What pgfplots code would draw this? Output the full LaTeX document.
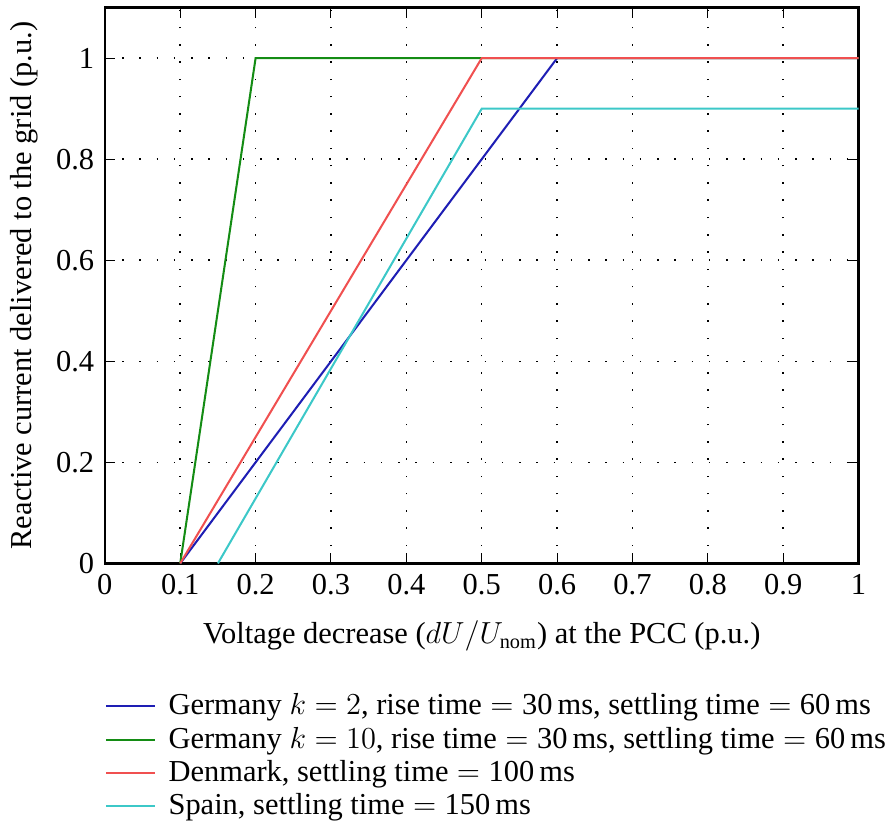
\documentclass[border=0pt]{standalone}
\usepackage{fontspec}
\setmainfont{Liberation Serif}
\usepackage{pgfplots}
\pgfplotsset{compat=1.18}
\definecolor{cBlue}{RGB}{30,30,180}
\definecolor{cGreen}{RGB}{20,140,20}
\definecolor{cRed}{RGB}{240,80,80}
\definecolor{cCyan}{RGB}{60,200,200}
\newcommand{\eq}{${}={}$}
\begin{document}
\fontsize{12pt}{14pt}\selectfont
\begin{tikzpicture}
\begin{axis}[
  scale only axis,
  width=297pt, height=219pt,
  xmin=0, xmax=1, ymin=0, ymax=1.1,
  xtick={0,0.1,...,1.0},
  ytick={0,0.2,0.4,0.6,0.8,1},
  xticklabels={0,0.1,0.2,0.3,0.4,0.5,0.6,0.7,0.8,0.9,1},
  yticklabels={0,0.2,0.4,0.6,0.8,1},
  /pgf/number format/assume math mode=true,
  ticklabel style={font=\fontsize{12pt}{14pt}\selectfont},
  tick style={black, thin},
  major tick length=4pt,
  axis line style={black, line width=0.9pt},
  grid=major,
  major grid style={black, line width=0.6pt, dash pattern=on 0.6pt off 6.2pt},
  xlabel={Voltage decrease ($dU/U_{\mathrm{nom}}$) at the PCC (p.u.)},
  ylabel={Reactive current delivered to the grid (p.u.)},
  xlabel style={yshift=-2pt, font=\fontsize{12pt}{14pt}\selectfont},
  ylabel style={yshift=-1pt, font=\fontsize{12pt}{14pt}\selectfont},
  legend style={draw=none, fill=none, at={(0,-0.215)}, anchor=north west,
    cells={anchor=west}, font=\fontsize{12pt}{14pt}\selectfont,
    row sep=-1pt, inner xsep=0pt},
  legend image code/.code={\draw[#1, line width=0.85pt] (0.05cm,0cm) -- (0.72cm,0cm);},
]
\addplot[cBlue, line width=0.8pt] coordinates {(0.1,0) (0.6,1) (1,1)};
\addlegendentry{\hspace{3pt}Germany $k = 2$, rise time\eq 30\,ms, settling time\eq 60\,ms}
\addplot[cGreen, line width=0.8pt] coordinates {(0.1,0) (0.2,1) (1,1)};
\addlegendentry{\hspace{3pt}Germany $k = 10$, rise time\eq 30\,ms, settling time\eq 60\,ms}
\addplot[cRed, line width=0.8pt] coordinates {(0.1,0) (0.5,1) (1,1)};
\addlegendentry{\hspace{3pt}Denmark, settling time\eq 100\,ms}
\addplot[cCyan, line width=0.8pt] coordinates {(0.15,0) (0.5,0.9) (1,0.9)};
\addlegendentry{\hspace{3pt}Spain, settling time\eq 150\,ms}
\end{axis}
\path ([yshift=3pt]current axis.north);
\end{tikzpicture}
\end{document}
